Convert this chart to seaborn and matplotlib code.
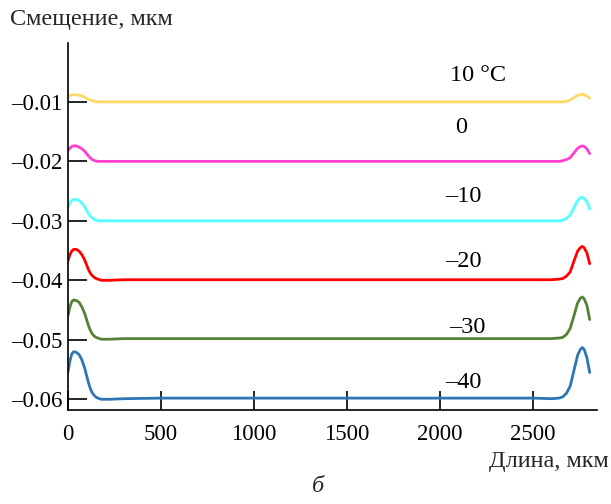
import matplotlib
matplotlib.use("Agg")
import matplotlib.pyplot as plt
import seaborn as sns
import pandas as pd
from matplotlib.ticker import FuncFormatter, FixedLocator

# ---- data ----
length_um = [0, 10, 20, 30, 45, 60, 75, 90, 100, 110, 120, 130, 145, 160, 180, 220, 300,
             500, 1000, 1500, 2000, 2500,
             2600, 2640, 2660, 2680, 2700, 2720, 2740, 2755, 2765, 2775, 2790, 2805]

temp_labels = ["10 °C", "0", "–10", "–20", "–30", "–40"]

disp_p10 = [-0.0092, -0.0090, -0.0088, -0.0088, -0.0088, -0.0089, -0.0090, -0.0092, -0.0094,
            -0.0096, -0.0097, -0.0098, -0.0099, -0.0100, -0.0100, -0.0100, -0.0100,
            -0.0100, -0.0100, -0.0100, -0.0100, -0.0100,
            -0.0100, -0.0100, -0.0100, -0.0099, -0.0097, -0.0093, -0.0089, -0.0088, -0.0087,
            -0.0088, -0.0090, -0.0094]
disp_0 = [-0.0182, -0.0178, -0.0175, -0.0174, -0.0174, -0.0176, -0.0179, -0.0183, -0.0187,
          -0.0191, -0.0194, -0.0197, -0.0199, -0.0200, -0.0200, -0.0200, -0.0200,
          -0.0200, -0.0200, -0.0200, -0.0200, -0.0200,
          -0.0200, -0.0200, -0.0199, -0.0197, -0.0194, -0.0186, -0.0178, -0.0175, -0.0174,
          -0.0175, -0.0179, -0.0187]
disp_m10 = [-0.0277, -0.0270, -0.0266, -0.0264, -0.0264, -0.0266, -0.0270, -0.0277, -0.0282,
            -0.0288, -0.0292, -0.0295, -0.0298, -0.0300, -0.0300, -0.0300, -0.0300,
            -0.0300, -0.0300, -0.0300, -0.0300, -0.0300,
            -0.0300, -0.0300, -0.0299, -0.0296, -0.0290, -0.0278, -0.0266, -0.0261, -0.0260,
            -0.0262, -0.0268, -0.0280]
disp_m20 = [-0.0367, -0.0357, -0.0351, -0.0348, -0.0348, -0.0351, -0.0357, -0.0366, -0.0374,
            -0.0382, -0.0388, -0.0392, -0.0396, -0.0398, -0.0400, -0.0400, -0.0399,
            -0.0399, -0.0399, -0.0399, -0.0399, -0.0399,
            -0.0399, -0.0398, -0.0397, -0.0393, -0.0386, -0.0368, -0.0351, -0.0345, -0.0343,
            -0.0345, -0.0354, -0.0372]
disp_m30 = [-0.0459, -0.0445, -0.0436, -0.0433, -0.0434, -0.0437, -0.0445, -0.0456, -0.0466,
            -0.0476, -0.0484, -0.0490, -0.0495, -0.0497, -0.0499, -0.0499, -0.0498,
            -0.0498, -0.0498, -0.0498, -0.0498, -0.0498,
            -0.0498, -0.0497, -0.0496, -0.0491, -0.0481, -0.0460, -0.0438, -0.0430, -0.0428,
            -0.0431, -0.0442, -0.0466]
disp_m40 = [-0.0554, -0.0536, -0.0524, -0.0520, -0.0521, -0.0525, -0.0534, -0.0548, -0.0560,
            -0.0572, -0.0582, -0.0589, -0.0595, -0.0598, -0.0600, -0.0600, -0.0599,
            -0.0598, -0.0598, -0.0598, -0.0598, -0.0598,
            -0.0599, -0.0598, -0.0596, -0.0590, -0.0578, -0.0552, -0.0526, -0.0516, -0.0513,
            -0.0516, -0.0530, -0.0555]

x_ticks = [0, 500, 1000, 1500, 2000, 2500]
y_ticks = [-0.01, -0.02, -0.03, -0.04, -0.05, -0.06]

# ---- styling / layout ----
colors = ["#FFD966", "#FF3FCF", "#55FFFF", "#FF0000", "#548235", "#2E75B6"]
label_pos = [(2204, -0.00551), (2113, -0.01425), (2124, -0.02585),
             (2124, -0.03677), (2145, -0.04787), (2124, -0.05711)]

sns.set_theme(style="ticks")
plt.rcParams["font.family"] = ["Liberation Serif", "DejaVu Serif"]
plt.rcParams["axes.unicode_minus"] = False

series = [disp_p10, disp_0, disp_m10, disp_m20, disp_m30, disp_m40]
frames = []
for lab, vals in zip(temp_labels, series):
    frames.append(pd.DataFrame({"x": length_um, "y": vals, "T": lab}))
df = pd.concat(frames, ignore_index=True)

fig = plt.figure(figsize=(6.11, 5.04), dpi=100)
ax = fig.add_axes([0.1113, 0.1865, 0.977 - 0.1113, 0.9147 - 0.1865])
ax.set_axisbelow(True)

sns.lineplot(data=df, x="x", y="y", hue="T", hue_order=temp_labels,
             palette=colors, linewidth=2.0, legend=False, ax=ax, sort=False)
for ln in ax.get_lines():
    ln.set_solid_joinstyle("round")
    ln.set_solid_capstyle("round")

ax.set_xlim(0, 2844)
ax.set_ylim(-0.0618, -0.0001)
ax.xaxis.set_major_locator(FixedLocator(x_ticks))
ax.yaxis.set_major_locator(FixedLocator(y_ticks))
ax.yaxis.set_major_formatter(FuncFormatter(lambda v, p: f"{v:.2f}".replace("-", "–")))
ax.xaxis.set_major_formatter(FuncFormatter(lambda v, p: f"{v:.0f}"))

fs = 16.5
fs_lab = 17.5
ax.tick_params(axis="both", direction="in", length=14, width=1.2, color="black",
               labelsize=fs, labelcolor="black")
ax.tick_params(axis="y", pad=4)
ax.tick_params(axis="x", pad=10)
for side in ["top", "right"]:
    ax.spines[side].set_visible(False)
for side in ["left", "bottom"]:
    ax.spines[side].set_color("black")
    ax.spines[side].set_linewidth(1.2)

ax.set_xlabel("")
ax.set_ylabel("")

for lab, (px, py) in zip(temp_labels, label_pos):
    ax.text(px, py, lab, fontsize=fs_lab, ha="center", va="center", color="black")

fig.text(10 / 611, 1 - 20 / 504, "Смещение, мкм", fontsize=fs_lab, ha="left", va="center")
fig.text(609 / 611, 1 - 462 / 504, "Длина, мкм", fontsize=fs_lab, ha="right", va="center")
fig.text(318 / 611, 1 - 487 / 504, "б", fontsize=fs_lab, ha="center", va="center", style="italic")

fig.savefig("out.png", dpi=100, facecolor="white")
